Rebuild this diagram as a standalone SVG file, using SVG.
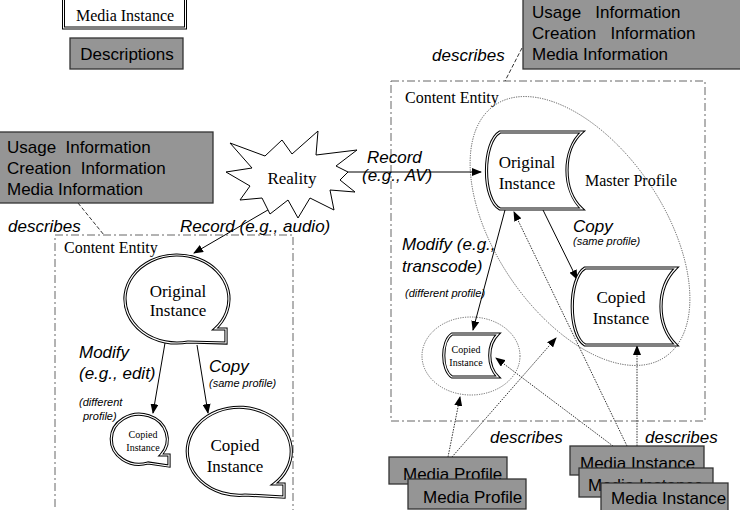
<svg xmlns="http://www.w3.org/2000/svg" width="740" height="510" viewBox="0 0 740 510">
<style>
.serif{font-family:"Liberation Serif","Times New Roman",serif;fill:#000}
.sans{font-family:"Liberation Sans",Arial,sans-serif;fill:#000}
.it{font-family:"Liberation Sans",Arial,sans-serif;font-style:italic;fill:#000}
.gray{fill:#959595;stroke:#333;stroke-width:1.3}
.ce{fill:none;stroke:#666;stroke-width:1;stroke-dasharray:8 3 2 3}
.dots{fill:none;stroke:#444;stroke-width:0.8;stroke-dasharray:1.2 1.2}
.outer{fill:#fff;stroke:#000;stroke-width:3.2}
.inner{fill:none;stroke:#fff;stroke-width:1.2}
.conn{stroke:#000;stroke-width:1;fill:none}
.dconn{stroke:#333;stroke-width:1;fill:none;stroke-dasharray:1.5 1.2}
.dash{stroke:#333;stroke-width:1;fill:none;stroke-dasharray:4 2}
</style>
<defs>
<marker id="ah" markerWidth="10" markerHeight="8" refX="9" refY="4" orient="auto" markerUnits="userSpaceOnUse"><path d="M0,0 L10,4 L0,8 Z" fill="#000"/></marker>
</defs>
<rect width="740" height="510" fill="#fff"/>

<g id="legend-media-instance">
<rect x="62.5" y="-5" width="124" height="34" fill="#fff" stroke="#000" stroke-width="1"/>
<rect x="64.5" y="-3" width="120" height="30" fill="none" stroke="#000" stroke-width="1"/>
<text class="serif" x="125" y="21" font-size="16" text-anchor="middle">Media Instance</text>
</g>
<g id="legend-descriptions">
<rect class="gray" x="70" y="38" width="113" height="31"/>
<text class="sans" x="127" y="60" font-size="17" text-anchor="middle">Descriptions</text>
</g>

<g id="content-entity-left">
<rect class="ce" x="55" y="235" width="238" height="290"/>
<text class="serif" x="64" y="253" font-size="16">Content Entity</text>
</g>
<g id="content-entity-right">
<rect class="ce" x="391" y="81" width="314" height="340"/>
<text class="serif" x="405" y="103" font-size="16">Content Entity</text>
</g>

<g id="master-profile">
<ellipse class="dots" cx="580" cy="231" rx="152" ry="84" transform="rotate(56 580 231)"/>
<text class="serif" x="585" y="186" font-size="16">Master Profile</text>
</g>
<g id="small-profile">
<ellipse class="dots" cx="471" cy="356" rx="49" ry="39"/>
</g>

<g id="desc-left">
<rect class="gray" x="-2" y="132" width="215" height="71"/>
<text class="sans" x="7" y="153" font-size="17" xml:space="preserve">Usage  Information</text>
<text class="sans" x="7" y="174" font-size="17" xml:space="preserve">Creation  Information</text>
<text class="sans" x="7" y="195" font-size="17">Media Information</text>
</g>
<g id="desc-right">
<rect class="gray" x="523" y="-3" width="220" height="72"/>
<text class="sans" x="532" y="18" font-size="17" xml:space="preserve">Usage   Information</text>
<text class="sans" x="532" y="39" font-size="17" xml:space="preserve">Creation   Information</text>
<text class="sans" x="532" y="60" font-size="17">Media Information</text>
</g>

<g id="connectors">
<line class="dash" x1="78" y1="203" x2="104" y2="235"/>
<line class="dash" x1="522" y1="48" x2="505" y2="81"/>
<line class="conn" x1="273" y1="207" x2="194" y2="253" marker-end="url(#ah)"/>
<line class="conn" x1="348" y1="172" x2="481" y2="172" marker-end="url(#ah)"/>
<line class="conn" x1="165" y1="343" x2="153" y2="413" marker-end="url(#ah)"/>
<line class="conn" x1="197" y1="345" x2="208" y2="413" marker-end="url(#ah)"/>
<line class="conn" x1="505" y1="210" x2="473" y2="330" marker-end="url(#ah)"/>
<line class="conn" x1="543" y1="210" x2="577" y2="279" marker-end="url(#ah)"/>
<line class="dconn" x1="448" y1="457" x2="460" y2="397" marker-end="url(#ah)"/>
<line class="dconn" x1="452" y1="457" x2="556" y2="338" marker-end="url(#ah)"/>
<line class="dconn" x1="613" y1="446" x2="496" y2="358" marker-end="url(#ah)"/>
<line class="dconn" x1="627" y1="446" x2="514" y2="212" marker-end="url(#ah)"/>
<line class="dconn" x1="637" y1="446" x2="637" y2="346" marker-end="url(#ah)"/>
</g>

<g id="reality">
<polygon points="230,143 265,156 282,140 292,154 318,131 316,155 357,150 336,166 348,172 340,180 355,192 330,190 334,210 310,198 298,218 288,200 270,214 262,198 240,200 250,186 226,172 252,168" fill="#fff" stroke="#000" stroke-width="1"/>
<text class="serif" x="292" y="184" font-size="17" text-anchor="middle">Reality</text>
</g>

<g id="left-original">
<path class="outer" d="M215,329 L226,329 L226,343 L188,342 A52,44 0 1 1 215,329 Z"/>
<path class="inner" d="M215,329 L226,329 L226,343 L188,342 A52,44 0 1 1 215,329 Z"/>
<text class="serif" x="178" y="297" font-size="17" text-anchor="middle">Original</text>
<text class="serif" x="178" y="316" font-size="17" text-anchor="middle">Instance</text>
</g>
<g id="left-copied-small">
<path class="outer" d="M161,455 L169,455 L169,466 L148,463 A28,25 0 1 1 161,455 Z"/>
<path class="inner" d="M161,455 L169,455 L169,466 L148,463 A28,25 0 1 1 161,455 Z"/>
<text class="serif" x="143" y="438" font-size="10" text-anchor="middle">Copied</text>
<text class="serif" x="143" y="451" font-size="10" text-anchor="middle">Instance</text>
</g>
<g id="left-copied-big">
<path class="outer" d="M274,484 L284,484 L284,497 L245,495 A52,44 0 1 1 274,484 Z"/>
<path class="inner" d="M274,484 L284,484 L284,497 L245,495 A52,44 0 1 1 274,484 Z"/>
<text class="serif" x="235" y="451" font-size="17" text-anchor="middle">Copied</text>
<text class="serif" x="235" y="472" font-size="17" text-anchor="middle">Instance</text>
</g>

<g id="right-original">
<path class="outer" d="M500,132 L582,132 C562,150 562,190 582,209 L500,209 C482,200 482,142 500,132 Z"/>
<path class="inner" d="M500,132 L582,132 C562,150 562,190 582,209 L500,209 C482,200 482,142 500,132 Z"/>
<text class="serif" x="527" y="168" font-size="17" text-anchor="middle">Original</text>
<text class="serif" x="527" y="189" font-size="17" text-anchor="middle">Instance</text>
</g>
<g id="right-copied">
<path class="outer" d="M585,268 L676,268 C656,288 656,325 676,345 L585,345 C568,335 568,278 585,268 Z"/>
<path class="inner" d="M585,268 L676,268 C656,288 656,325 676,345 L585,345 C568,335 568,278 585,268 Z"/>
<text class="serif" x="621" y="303" font-size="17" text-anchor="middle">Copied</text>
<text class="serif" x="621" y="324" font-size="17" text-anchor="middle">Instance</text>
</g>
<g id="right-copied-small">
<path class="outer" d="M452,334 L498,334 C487,345 487,366 498,377 L452,377 C441,370 441,341 452,334 Z"/>
<path class="inner" d="M452,334 L498,334 C487,345 487,366 498,377 L452,377 C441,370 441,341 452,334 Z"/>
<text class="serif" x="466" y="353" font-size="10" text-anchor="middle">Copied</text>
<text class="serif" x="466" y="366" font-size="10" text-anchor="middle">Instance</text>
</g>

<g id="labels">
<text class="it" x="8" y="232" font-size="17">describes</text>
<text class="it" x="432" y="61" font-size="17">describes</text>
<text class="it" x="180" y="232" font-size="17">Record (e.g., audio)</text>
<text class="it" x="367" y="163" font-size="17">Record</text>
<text class="it" x="362" y="181" font-size="17">(e.g., AV)</text>
<text class="it" x="79" y="358" font-size="17">Modify</text>
<text class="it" x="79" y="379" font-size="17">(e.g., edit)</text>
<text class="it" x="79" y="406" font-size="11">(different</text>
<text class="it" x="83" y="420" font-size="11">profile)</text>
<text class="it" x="209" y="372" font-size="17">Copy</text>
<text class="it" x="209" y="387" font-size="11">(same profile)</text>
<text class="it" x="573" y="232" font-size="17">Copy</text>
<text class="it" x="573" y="245" font-size="11">(same profile)</text>
<text class="it" x="402" y="250" font-size="17">Modify (e.g.,</text>
<text class="it" x="402" y="272" font-size="17">transcode)</text>
<text class="it" x="405" y="297" font-size="11">(different profile)</text>
<text class="it" x="490" y="443" font-size="17">describes</text>
<text class="it" x="645" y="443" font-size="17">describes</text>
</g>

<g id="media-profile-1">
<rect class="gray" x="389" y="457" width="118" height="27"/>
<text class="sans" x="403" y="480" font-size="17">Media Profile</text>
</g>
<g id="media-profile-2">
<rect class="gray" x="408" y="479" width="118" height="30"/>
<text class="sans" x="423" y="503" font-size="17">Media Profile</text>
</g>
<g id="media-instance-1">
<rect class="gray" x="570" y="446" width="134" height="29"/>
<text class="sans" x="580" y="469" font-size="17">Media Instance</text>
</g>
<g id="media-instance-2">
<rect class="gray" x="579" y="468" width="134" height="29"/>
<text class="sans" x="588" y="491" font-size="17">Media Instance</text>
</g>
<g id="media-instance-3">
<rect class="gray" x="601" y="483" width="127" height="29"/>
<text class="sans" x="611" y="504" font-size="17">Media Instance</text>
</g>
</svg>
